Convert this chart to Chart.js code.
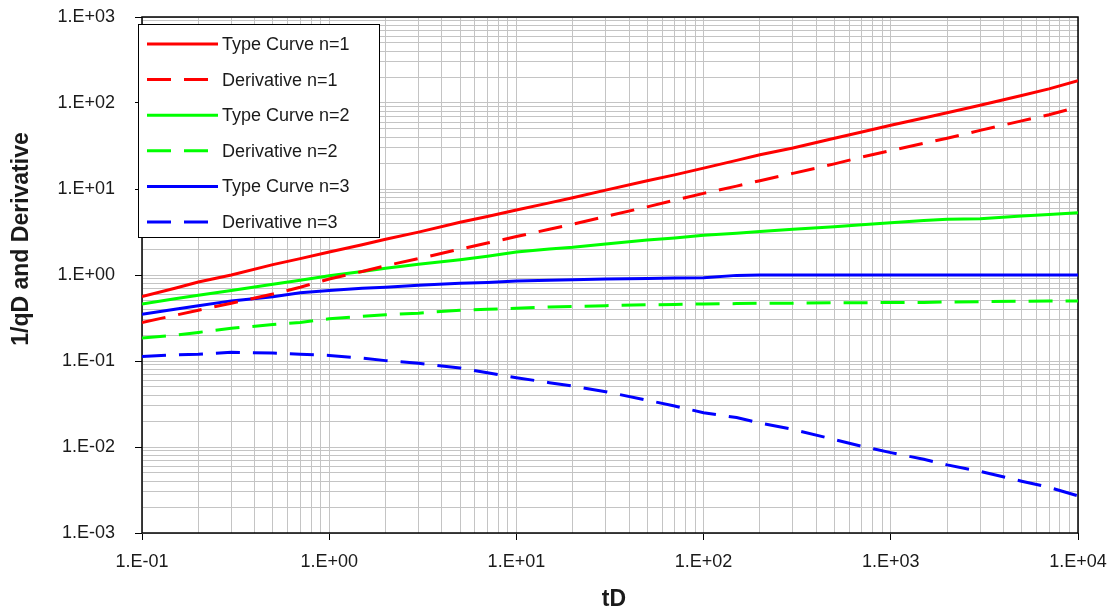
<!DOCTYPE html>
<html>
<head>
<meta charset="utf-8">
<script src="https://cdn.jsdelivr.net/npm/chart.js@4.4.1/dist/chart.umd.min.js"></script>
<style>
  html, body { margin: 0; padding: 0; background: #fff; }
  #wrap { width: 1111px; height: 613px; }
</style>
</head>
<body>
<div id="wrap"><canvas id="typeChart" width="1111" height="613"></canvas></div>
<script>
// tD samples shared by every curve
const tD = [0.1, 0.15, 0.2, 0.3, 0.5, 0.7, 1, 1.5, 2, 3, 5, 7, 10, 15, 20, 30, 50, 70,
  100, 150, 200, 300, 500, 700, 1000, 1500, 2000, 3000, 5000, 7000, 10000];

const typeCurve1 = [0.56, 0.70, 0.83, 1.0, 1.32, 1.55, 1.85, 2.25, 2.6, 3.15, 4.1, 4.8, 5.7, 6.9, 7.9, 9.7, 12.5, 14.6,
  17.5, 21.5, 25, 30, 39, 46, 55, 67, 77, 94, 122, 146, 182];
const deriv1 = [0.28, 0.34, 0.39, 0.47, 0.6, 0.72, 0.9, 1.1, 1.28, 1.55, 2.0, 2.35, 2.8, 3.4, 3.9, 4.8, 6.2, 7.4,
  8.9, 10.8, 12.5, 15.2, 19.6, 23.5, 28, 34, 39, 48, 62, 73, 90];
const typeCurve2 = [0.46, 0.53, 0.58, 0.66, 0.78, 0.87, 0.98, 1.1, 1.2, 1.33, 1.5, 1.65, 1.85, 2.0, 2.1, 2.3, 2.55, 2.7,
  2.9, 3.05, 3.2, 3.4, 3.65, 3.85, 4.05, 4.3, 4.45, 4.5, 4.85, 5.05, 5.3];
const deriv2 = [0.185, 0.20, 0.215, 0.24, 0.265, 0.28, 0.31, 0.33, 0.345, 0.36, 0.39, 0.40, 0.41, 0.425, 0.43, 0.44, 0.45, 0.455,
  0.46, 0.465, 0.47, 0.47, 0.475, 0.475, 0.48, 0.48, 0.485, 0.49, 0.495, 0.5, 0.5];
const typeCurve3 = [0.35, 0.40, 0.44, 0.50, 0.56, 0.62, 0.66, 0.70, 0.72, 0.76, 0.80, 0.82, 0.85, 0.87, 0.88, 0.90, 0.91, 0.92,
  0.93, 0.99, 1.0, 1.0, 1.0, 1.0, 1.0, 1.0, 1.0, 1.0, 1.0, 1.0, 1.0];
const deriv3 = [0.113, 0.118, 0.12, 0.126, 0.124, 0.12, 0.116, 0.108, 0.101, 0.094, 0.083, 0.073, 0.064, 0.056, 0.051, 0.044, 0.035, 0.030,
  0.025, 0.022, 0.019, 0.016, 0.0122, 0.0102, 0.0086, 0.0072, 0.0062, 0.0052, 0.0040, 0.0034, 0.0027];

const seriesLabels = ['Type Curve n=1', 'Derivative n=1', 'Type Curve n=2', 'Derivative n=2', 'Type Curve n=3', 'Derivative n=3'];
const seriesValues = [typeCurve1, deriv1, typeCurve2, deriv2, typeCurve3, deriv3];
const seriesColors = ['#ff0000', '#ff0000', '#00ff00', '#00ff00', '#0000ff', '#0000ff'];

// axis decades (tick labels only on these)
const xDecades = [-1, 0, 1, 2, 3, 4];
const yDecades = [-3, -2, -1, 0, 1, 2, 3];
const xTitle = 'tD';
const yTitle = '1/qD and Derivative';

const FONT = '"Liberation Sans", Arial, sans-serif';
const DASH = [24, 13];

function isMajor(v) {
  const l = Math.log10(v);
  return Math.abs(l - Math.round(l)) < 1e-9;
}
function sciLabel(v) {
  const e = Math.round(Math.log10(v));
  return '1.E' + (e < 0 ? '-' : '+') + String(Math.abs(e)).padStart(2, '0');
}
function logTicks(decades) {
  const out = [];
  for (let i = 0; i < decades.length; i++) {
    const e = decades[i];
    const last = i === decades.length - 1;
    for (let m = 1; m <= (last ? 1 : 9); m++) {
      out.push({ value: Number((m * Math.pow(10, e)).toPrecision(4)) });
    }
  }
  return out;
}

const datasets = seriesLabels.map((label, i) => ({
  label,
  data: tD.map((x, j) => ({ x, y: seriesValues[i][j] })),
  borderColor: seriesColors[i],
  borderWidth: 3,
  borderDash: i % 2 === 1 ? DASH : [],
  pointRadius: 0,
  tension: 0,
  fill: false
}));

// black frame round the plot area
const framePlugin = {
  id: 'frame',
  beforeDatasetsDraw(chart) {
    const { ctx, chartArea: a } = chart;
    ctx.save();
    ctx.strokeStyle = '#000';
    ctx.lineWidth = 1.5;
    ctx.strokeRect(a.left, a.top, a.right - a.left, a.bottom - a.top);
    ctx.restore();
  }
};

// axis titles, placed where the original has them
const axisTitles = {
  id: 'axisTitles',
  afterDraw(chart) {
    const ctx = chart.ctx;
    ctx.save();
    ctx.fillStyle = '#1a1a1a';
    ctx.font = 'bold 23px ' + FONT;
    ctx.textAlign = 'center';
    ctx.textBaseline = 'middle';
    ctx.fillText(xTitle, 614, 600);
    ctx.translate(22, 239);
    ctx.rotate(-Math.PI / 2);
    ctx.fillText(yTitle, 0, 0);
    ctx.restore();
  }
};

// boxed legend in the upper left corner
const boxLegend = {
  id: 'boxLegend',
  afterDatasetsDraw(chart) {
    const ctx = chart.ctx;
    const box = { x: 138.5, y: 24.5, w: 241, h: 213 };
    ctx.save();
    ctx.fillStyle = '#fff';
    ctx.fillRect(box.x, box.y, box.w, box.h);
    ctx.strokeStyle = '#000';
    ctx.lineWidth = 1;
    ctx.strokeRect(box.x, box.y, box.w, box.h);
    ctx.font = '18px ' + FONT;
    ctx.textBaseline = 'middle';
    chart.data.datasets.forEach((ds, i) => {
      const y = 44 + i * 35.6;
      ctx.beginPath();
      ctx.setLineDash(ds.borderDash || []);
      ctx.strokeStyle = ds.borderColor;
      ctx.lineWidth = 3;
      ctx.moveTo(147, y);
      ctx.lineTo(218, y);
      ctx.stroke();
      ctx.setLineDash([]);
      ctx.fillStyle = '#1a1a1a';
      ctx.fillText(ds.label, 222, y + 1);
    });
    ctx.restore();
  }
};

const gridColor = '#c4c4c4';
const tickColor = (c) => (c.tick && isMajor(c.tick.value) ? '#000' : 'rgba(0,0,0,0)');

new Chart(document.getElementById('typeChart'), {
  type: 'line',
  data: { datasets },
  plugins: [framePlugin, boxLegend, axisTitles],
  options: {
    responsive: false,
    animation: false,
    devicePixelRatio: 1,
    layout: { padding: { top: 17, right: 33, bottom: 0, left: 0 } },
    plugins: { legend: { display: false }, tooltip: { enabled: false } },
    scales: {
      x: {
        type: 'logarithmic',
        min: 0.1,
        max: 10000,
        afterBuildTicks: (axis) => { axis.ticks = logTicks(xDecades); },
        afterFit: (axis) => { axis.height = 80; axis.paddingLeft = 0; axis.paddingRight = 0; },
        border: { display: false },
        grid: { color: gridColor, lineWidth: 1, tickLength: 7, tickColor },
        ticks: {
          autoSkip: false,
          maxRotation: 0,
          padding: 11,
          color: '#1a1a1a',
          font: { family: FONT, size: 18 },
          callback: (v) => (isMajor(v) ? sciLabel(v) : '')
        }
      },
      y: {
        type: 'logarithmic',
        min: 0.001,
        max: 1000,
        afterBuildTicks: (axis) => { axis.ticks = logTicks(yDecades); },
        afterFit: (axis) => { axis.width = 142; axis.paddingTop = 0; axis.paddingBottom = 0; },
        border: { display: false },
        grid: { color: gridColor, lineWidth: 1, tickLength: 7, tickColor },
        ticks: {
          autoSkip: false,
          padding: 20,
          color: '#1a1a1a',
          font: { family: FONT, size: 18 },
          callback: (v) => (isMajor(v) ? sciLabel(v) : '')
        }
      }
    }
  }
});
</script>
</body>
</html>
